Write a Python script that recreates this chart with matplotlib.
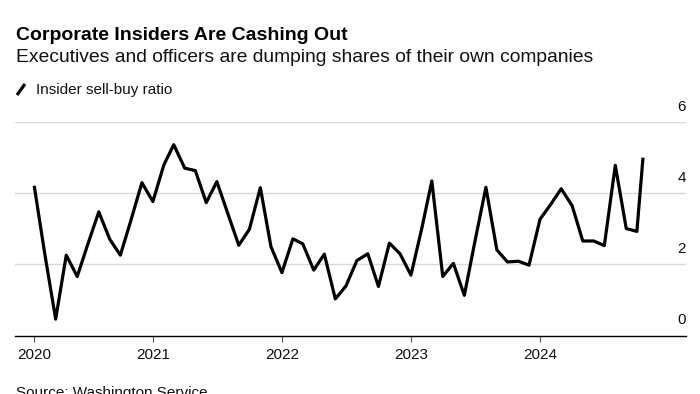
import pandas as pd
import matplotlib
matplotlib.use('Agg')
import matplotlib.pyplot as plt
from matplotlib.lines import Line2D

plt.rcParams['font.family'] = ['Liberation Sans', 'DejaVu Sans']

# monthly insider sell-buy ratio, Jan 2020 - Sep 2024 (month end), plus a partial Oct 2024 reading
ratio = [4.17, 2.31, 0.46, 2.26, 1.66, 2.57, 3.48, 2.71, 2.26, 3.28, 4.30, 3.77,
         4.80, 5.37, 4.71, 4.64, 3.74, 4.33, 3.43, 2.54, 2.99, 4.16, 2.50, 1.77,
         2.72, 2.58, 1.84, 2.29, 1.03, 1.39, 2.11, 2.30, 1.38, 2.60, 2.30, 1.70,
         3.03, 4.35, 1.66, 2.03, 1.13, 2.65, 4.17, 2.41, 2.07, 2.09, 1.98, 3.27,
         3.70, 4.13, 3.65, 2.66, 2.66, 2.53, 4.79, 3.01, 2.93, 4.96]
dates = list(pd.date_range('2020-01-31', '2024-09-30', freq='ME')) + [pd.Timestamp('2024-10-17')]

year_ticks = [pd.Timestamp('2020-01-31'), pd.Timestamp('2021-01-01'), pd.Timestamp('2022-01-01'),
              pd.Timestamp('2023-01-01'), pd.Timestamp('2024-01-01')]
year_labels = ['2020', '2021', '2022', '2023', '2024']
y_ticks = [0, 2, 4, 6]

W, H = 700, 394
fig = plt.figure(figsize=(7, 3.94), dpi=100)
ax = fig.add_axes([15 / W, (H - 335.5) / H, (686 - 15) / W, (335.5 - 122.3) / H])

ax.plot(dates, ratio, color='black', lw=2.3, solid_joinstyle='round', clip_on=False, zorder=3)

ax.set_xlim(pd.Timestamp('2019-12-07'), pd.Timestamp('2025-02-16'))
ax.set_ylim(0, 6)

for v in y_ticks[1:]:
    ax.axhline(v, color='#d8d8d8', lw=1, zorder=1)
for v in y_ticks:
    ax.annotate(str(v), xy=(1, v), xycoords=('axes fraction', 'data'), xytext=(0, 6),
                textcoords='offset points', ha='right', va='bottom', fontsize=11, color='#111111')

for s in ['top', 'right', 'left']:
    ax.spines[s].set_visible(False)
ax.spines['bottom'].set_color('black')
ax.spines['bottom'].set_linewidth(1)
ax.set_yticks([])
ax.set_xticks(year_ticks)
ax.set_xticklabels(year_labels, fontsize=11, color='#111111')
ax.tick_params(axis='x', length=4.5, width=0.8, color='#555555', pad=4.5)

fig.text(16 / W, 1 - 39.5 / H, 'Corporate Insiders Are Cashing Out', fontsize=14,
         fontweight='bold', va='baseline', ha='left', color='black')
fig.text(16 / W, 1 - 62.3 / H, 'Executives and officers are dumping shares of their own companies',
         fontsize=13.9, va='baseline', ha='left', color='#111111')
fig.add_artist(Line2D([17 / W, 25 / W], [1 - 95 / H, 1 - 84 / H], color='black', lw=2.3,
                      solid_capstyle='butt'))
fig.text(36 / W, 1 - 94 / H, 'Insider sell-buy ratio', fontsize=11, va='baseline', ha='left',
         color='#111111')
fig.text(16 / W, 1 - 386 / H, 'Source: Washington Service', fontsize=11, va='top', ha='left',
         color='#111111')

fig.savefig('out.png', dpi=100)
